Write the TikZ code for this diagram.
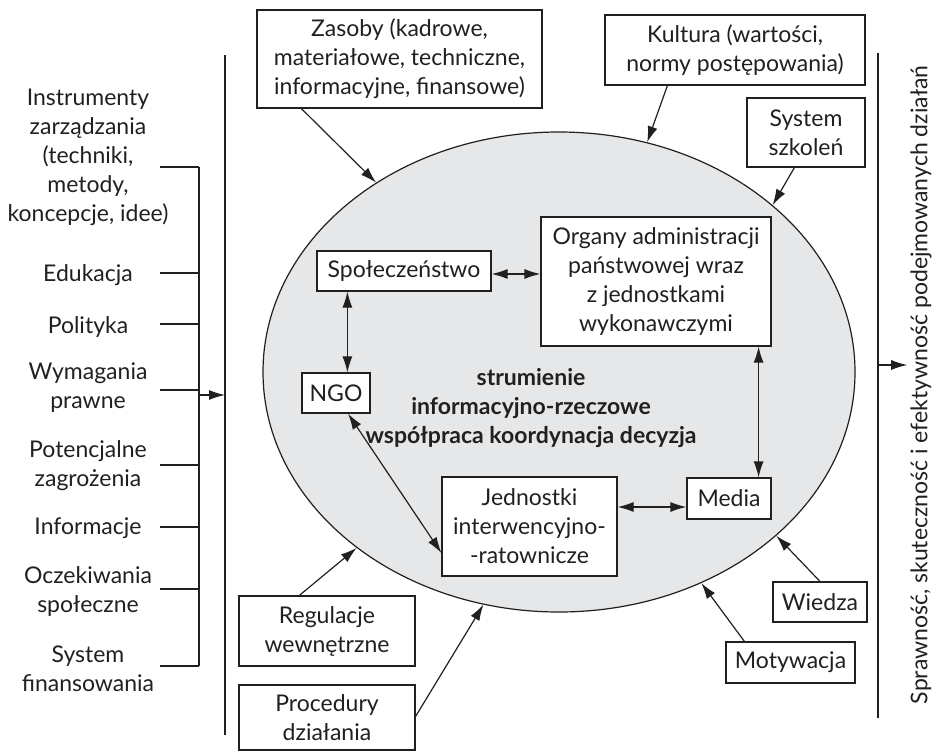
\documentclass[tikz,border=0pt]{standalone}
\usepackage{fontspec}
\setmainfont{Lato}
\usetikzlibrary{arrows.meta,shapes.geometric}
\definecolor{ink}{HTML}{231F20}
\definecolor{corefill}{HTML}{E6E7E8}

\begin{document}
\begin{tikzpicture}[x=1pt,y=-1pt,
  every node/.style={text=ink, font=\fontsize{23}{29}\selectfont, align=center, inner sep=0pt},
  box/.style={draw=ink, line width=1.2pt, fill=white},
  link/.style={draw=ink, line width=1.2pt, -{Latex[length=16pt,width=10pt]}},
  both/.style={draw=ink, line width=1.2pt, {Latex[length=16pt,width=10pt]}-{Latex[length=16pt,width=10pt]}},
  rule/.style={draw=ink, line width=1.2pt}]
\useasboundingbox (0,0) rectangle (934,753);

% central system
\node[ellipse, draw=ink, fill=corefill, line width=1.2pt,
      minimum width=592pt, minimum height=480pt] (core) at (559,372) {};

% inner actors
\node[box, minimum width=174pt, minimum height=40pt] (spo) at (404,271) {Społeczeństwo};
\node[box, minimum width=230pt, minimum height=129pt] (org) at (656,281.5)
  {Organy administracji\\państwowej wraz\\z jednostkami\\wykonawczymi};
\node[box, minimum width=68pt, minimum height=40pt] (ngo) at (336,393) {NGO};
\node[box, minimum width=175pt, minimum height=99pt] (jed) at (529.5,526.5)
  {Jednostki\\interwencyjno-\\-ratownicze};
\node[box, minimum width=84pt, minimum height=41pt] (med) at (729,498.5) {Media};
\node[font=\fontsize{23}{29}\selectfont\bfseries] (flow) at (531,408)
  {strumienie\\informacyjno-rzeczowe\\współpraca koordynacja decyzja};

\draw[both] ([yshift=-3pt]spo.east) -- ([yshift=-3pt]spo.east -| org.west);
\draw[both] ([xshift=31pt]spo.south west) -- ([xshift=31pt]spo.south west |- ngo.north);
\draw[both] ([xshift=12pt]ngo.south) -- ([yshift=-26.5pt]jed.west);
\draw[both] ([xshift=-13pt]org.south east) -- ([xshift=-13pt]org.south east |- med.north);
\draw[both] ([yshift=-8.5pt]med.west -| jed.east) -- ([yshift=-8.5pt]med.west);

% outer influences
\node[box, minimum width=285pt, minimum height=98pt] (zas) at (399.5,59)
  {Zasoby (kadrowe,\\materiałowe, techniczne,\\informacyjne, finansowe)};
\node[box, minimum width=260pt, minimum height=70pt] (kul) at (735,50)
  {Kultura (wartości,\\normy postępowania)};
\node[box, minimum width=118pt, minimum height=69pt] (szk) at (806,132.5) {System\\szkoleń};
\node[box, minimum width=176pt, minimum height=70pt] (reg) at (327,631) {Regulacje\\wewnętrzne};
\node[box, minimum width=176pt, minimum height=65pt] (pro) at (327,717.5) {Procedury\\działania};
\node[box, minimum width=94pt, minimum height=40pt] (wie) at (820,602) {Wiedza};
\node[box, minimum width=129pt, minimum height=41pt] (mot) at (790.5,662.5) {Motywacja};

\draw[link] ([xshift=45pt]zas.south west) -- (core.134.2);
\draw[link] ([xshift=63pt]kul.south west) -- (core.69.4);
\draw[link] ([xshift=48pt]szk.south west) -- (core.38.7);
\draw[link] (wie.north) -- (core.-37.4);
\draw[link] ([xshift=19pt]mot.north west) -- (core.-56.2);
\draw[link] ([yshift=-32pt]pro.north east) -- (core.252.2);
\draw[link] ([xshift=61pt]reg.north west) -- (core.221.8);

% environment factors on the left
\node (f1) at (88,157.5) {Instrumenty\\zarządzania\\(techniki,\\metody,\\koncepcje, idee)};
\node (f2) at (88,275) {Edukacja};
\node (f3) at (88,327) {Polityka};
\node (f4) at (88,387.5) {Wymagania\\prawne};
\node (f5) at (88,466) {Potencjalne\\zagrożenia};
\node (f6) at (88,528) {Informacje};
\node (f7) at (88,591) {Oczekiwania\\społeczne};
\node (f8) at (88,669) {System\\finansowania};

\coordinate (brT) at (199,167);
\coordinate (brB) at (199,666);
\coordinate (brMid) at (199,395);
\foreach \y in {167,273,324,390,465,527,589,666}
  \draw[rule] (160,\y) -- (brT |- 0,\y);
\draw[rule] (brT) -- (brB);

\coordinate (inTop) at (225,55);
\coordinate (inBot) at (225,735);
\draw[rule] (inTop) -- (inBot);
\draw[link] (brMid) -- (brMid -| inTop);

% outcome on the right
\coordinate (outTop) at (878,53);
\coordinate (outBot) at (878,718);
\coordinate (outMid) at (878,365);
\draw[rule] (outTop) -- (outBot);
\node[rotate=90] (res) at (921,385)
  {Sprawność, skuteczność i efektywność podejmowanych działań};
\draw[link] (outMid) -- ([xshift=-3pt]outMid -| res.north);
\end{tikzpicture}
\end{document}
